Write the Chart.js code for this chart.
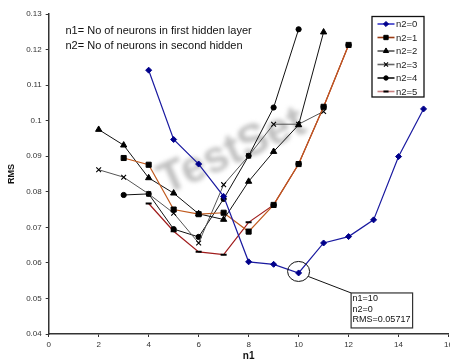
<!DOCTYPE html>
<html>
<head>
<meta charset="utf-8">
<script src="https://cdn.jsdelivr.net/npm/chart.js@4/dist/chart.umd.min.js"></script>
<style>
  html, body { margin: 0; padding: 0; background: #fff; overflow: hidden; width: 450px; height: 362px; }
  canvas { display: block; }
</style>
</head>
<body>
<canvas id="c" width="456" height="362"></canvas>
<script>
// ---- data ----
const n1 = [2, 3, 4, 5, 6, 7, 8, 9, 10, 11, 12, 13, 14, 15];
const seriesNames = ["n2=0", "n2=1", "n2=2", "n2=3", "n2=4", "n2=5"];
const rms_n2_0 = [null, null, 0.1142, 0.0947, 0.0878, 0.0787, 0.0603, 0.0596, 0.05717, 0.0656, 0.0674, 0.0721, 0.0899, 0.1033];
const rms_n2_1 = [null, 0.0895, 0.0876, 0.0750, 0.0737, 0.0741, 0.0688, 0.0763, 0.0878, 0.1039, 0.1213, null, null, null];
const rms_n2_2 = [0.0975, 0.0931, 0.0839, 0.0796, 0.0738, 0.0722, 0.0829, 0.0913, 0.0988, 0.1249, null, null, null, null];
const rms_n2_3 = [0.0862, 0.0841, 0.0794, 0.0740, 0.0656, 0.0820, 0.0901, 0.0990, 0.0990, 0.1026, null, null, null, null];
const rms_n2_4 = [null, 0.0791, 0.0794, 0.0695, 0.0673, 0.0780, 0.0901, 0.1037, 0.1257, null, null, null, null, null];
const rms_n2_5 = [null, null, 0.0767, 0.0689, 0.0631, 0.0623, 0.0714, 0.0763, 0.0878, 0.1039, 0.1213, null, null, null];
const xTicks = [0, 2, 4, 6, 8, 10, 12, 14, 16];
const yTicks = [0.04, 0.05, 0.06, 0.07, 0.08, 0.09, 0.1, 0.11, 0.12, 0.13];
const noteLines = ["n1= No of neurons in first hidden layer", "n2= No of neurons in second hidden"];
const calloutPoint = { n1: 10, rms: 0.05717 };
const calloutLines = ["n1=10", "n2=0", "RMS=0.05717"];
const watermarkText = "TestSet";

const FONT = "'Liberation Sans', Arial, sans-serif";

function toXY(vals) {
  const out = [];
  vals.forEach((v, i) => { if (v !== null) out.push({ x: n1[i], y: v }); });
  return out;
}

const styles = [
  { line: '#1a1aa0', pt: 'rectRot', r: 3, ptColor: '#00008b', bw: 1.2, pbw: 1, legendLine: '#3535c8' },
  { line: '#c05a1e', pt: 'rect', r: 3.6, ptColor: '#000', bw: 1.2, pbw: 1, legendLine: '#9a3a12' },
  { line: '#111', pt: 'triangle', r: 3.6, ptColor: '#000', bw: 1, pbw: 1, legendLine: '#555' },
  { line: '#555', pt: 'crossRot', r: 3.4, ptColor: '#000', bw: 1, pbw: 1.1, legendLine: '#666' },
  { line: '#111', pt: 'circle', r: 2.6, ptColor: '#000', bw: 1, pbw: 1, legendLine: '#111' },
  { line: '#a01c1c', pt: 'line', r: 3, ptColor: '#000', bw: 1.2, pbw: 2, legendLine: '#c88080' }
];
const allSeries = [rms_n2_0, rms_n2_1, rms_n2_2, rms_n2_3, rms_n2_4, rms_n2_5];

const datasets = allSeries.map((vals, i) => ({
  label: seriesNames[i],
  data: toXY(vals),
  borderColor: styles[i].line,
  backgroundColor: styles[i].line,
  borderWidth: styles[i].bw,
  pointStyle: styles[i].pt,
  pointRadius: styles[i].r,
  pointBackgroundColor: styles[i].ptColor,
  pointBorderColor: styles[i].ptColor,
  pointBorderWidth: styles[i].pbw,
  tension: 0,
  fill: false,
  legendLine: styles[i].legendLine
}));

const watermarkPlugin = {
  id: 'watermark',
  beforeDatasetsDraw(chart) {
    const ctx = chart.ctx;
    ctx.save();
    ctx.translate(232, 152);
    ctx.rotate(-0.42);
    ctx.filter = 'blur(2px)';
    ctx.font = 'bold 44px ' + FONT;
    ctx.fillStyle = 'rgba(150,150,150,0.6)';
    ctx.textAlign = 'center';
    ctx.textBaseline = 'middle';
    ctx.fillText(watermarkText, 0, 0);
    ctx.restore();
  }
};

const overlayPlugin = {
  id: 'overlay',
  afterDraw(chart) {
    const ctx = chart.ctx;
    const xs = chart.scales.x, ys = chart.scales.y;
    ctx.save();
    // notes
    ctx.fillStyle = '#111';
    ctx.font = '11px ' + FONT;
    ctx.textBaseline = 'middle';
    ctx.textAlign = 'left';
    noteLines.forEach((t, i) => ctx.fillText(t, 65.5, 31 + i * 14.7));

    // legend
    const lx = 372, ly = 16.5, lw = 52, lh = 80.5;
    ctx.fillStyle = '#fff';
    ctx.fillRect(lx, ly, lw, lh);
    ctx.strokeStyle = '#111';
    ctx.lineWidth = 1.3;
    ctx.strokeRect(lx, ly, lw, lh);
    ctx.font = '9.5px ' + FONT;
    chart.data.datasets.forEach((ds, i) => {
      const y = 24 + i * 13.5;
      ctx.strokeStyle = ds.legendLine;
      ctx.lineWidth = 1.6;
      ctx.beginPath();
      ctx.moveTo(377.5, y);
      ctx.lineTo(394.5, y);
      ctx.stroke();
      ctx.fillStyle = ds.pointBackgroundColor;
      ctx.strokeStyle = ds.pointBorderColor;
      ctx.lineWidth = ds.pointBorderWidth;
      Chart.helpers.drawPoint(ctx, { pointStyle: ds.pointStyle, radius: ds.pointRadius * 0.85, borderWidth: ds.pointBorderWidth, rotation: 0 }, 386, y);
      ctx.fillStyle = '#222';
      ctx.fillText(ds.label, 396, y + 0.5);
    });

    // callout
    const cx = xs.getPixelForValue(calloutPoint.n1);
    const cy = ys.getPixelForValue(calloutPoint.rms) - 1.5;
    ctx.strokeStyle = '#111';
    ctx.lineWidth = 1;
    ctx.beginPath();
    ctx.ellipse(cx, cy, 11, 10, 0, 0, Math.PI * 2);
    ctx.stroke();
    const bx = cx + 52.5, by = cy + 21.5, bw = 61.5, bh = 35;
    ctx.beginPath();
    ctx.moveTo(cx + 9.6, cy + 5);
    ctx.lineTo(bx, by);
    ctx.stroke();
    ctx.fillStyle = '#fff';
    ctx.fillRect(bx, by, bw, bh);
    ctx.strokeStyle = '#333';
    ctx.lineWidth = 1.2;
    ctx.strokeRect(bx, by, bw, bh);
    ctx.fillStyle = '#111';
    ctx.font = '9px ' + FONT;
    calloutLines.forEach((t, i) => ctx.fillText(t, bx + 1.5, by + 6 + i * 10.3));
    ctx.restore();
  }
};

new Chart(document.getElementById('c'), {
  type: 'line',
  data: { datasets },
  options: {
    responsive: false,
    devicePixelRatio: 1,
    animation: false,
    events: [],
    layout: { padding: { top: 14, right: 7.3, bottom: 0, left: 0 } },
    plugins: { legend: { display: false }, tooltip: { enabled: false } },
    scales: {
      x: {
        type: 'linear',
        min: 0, max: 16,
        afterBuildTicks(scale) { scale.ticks = xTicks.map(v => ({ value: v })); },
        afterFit(scale) { scale.height = 28; },
        border: { display: true, color: '#333', width: 1.5 },
        grid: { drawOnChartArea: false, drawTicks: true, tickLength: 3, color: '#333', lineWidth: 1 },
        ticks: { color: '#333', font: { family: FONT, size: 8 }, padding: 3, maxRotation: 0, callback: v => String(v) },
        title: { display: true, text: 'n1', color: '#111', font: { family: FONT, size: 10, weight: 'bold' }, padding: { top: 0, bottom: 0 } }
      },
      y: {
        type: 'linear',
        min: 0.04, max: 0.13,
        afterBuildTicks(scale) { scale.ticks = yTicks.map(v => ({ value: v })); },
        afterFit(scale) { scale.width = 48.7; },
        border: { display: true, color: '#333', width: 1.5 },
        grid: { drawOnChartArea: false, drawTicks: true, tickLength: 3, color: '#333', lineWidth: 1 },
        ticks: { color: '#333', font: { family: FONT, size: 8 }, padding: 4, callback: v => String(Math.round(v * 100) / 100) },
        title: { display: true, text: 'RMS', color: '#111', font: { family: FONT, size: 9, weight: 'bold' }, padding: { top: 6, bottom: 0 } }
      }
    }
  },
  plugins: [watermarkPlugin, overlayPlugin]
});
</script>
</body>
</html>
